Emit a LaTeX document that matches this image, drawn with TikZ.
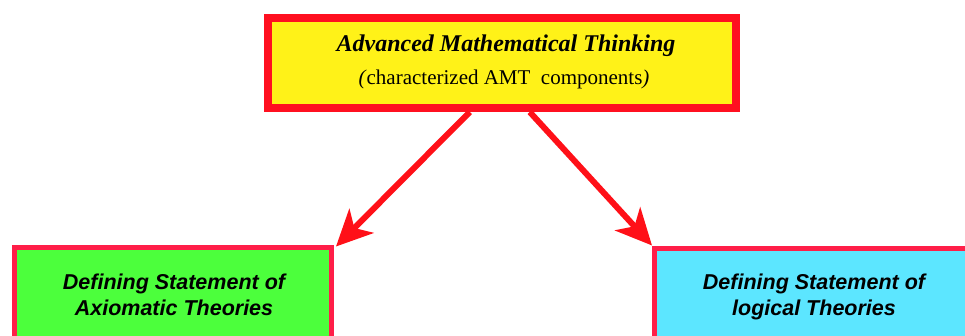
\documentclass[tikz,border=0pt]{standalone}
\usepackage{fontspec}
\setmainfont{Liberation Serif}
\newfontfamily\boxsans{Liberation Sans}
\usetikzlibrary{arrows.meta,calc}
\definecolor{topred}{RGB}{255,16,32}
\definecolor{arrred}{RGB}{255,16,24}
\definecolor{pinkred}{RGB}{255,30,72}
\definecolor{topyellow}{RGB}{255,242,24}
\definecolor{boxgreen}{RGB}{76,255,60}
\definecolor{boxcyan}{RGB}{92,230,255}
\tikzset{
  topbox/.style={draw=topred,line width=8pt,fill=topyellow,inner sep=0pt},
  lowbox/.style={draw=pinkred,line width=5pt,inner sep=0pt},
  lowtext/.style={font=\boxsans\fontsize{21.5}{25}\selectfont\bfseries\itshape,align=center,inner sep=0pt},
  arr/.style={draw=arrred,line width=6pt,-{Stealth[length=36pt,width=34pt,inset=10pt]}}
}
\begin{document}
\begin{tikzpicture}[x=1pt,y=-1pt]
\useasboundingbox (0,0) rectangle (965,336);
\clip (0,0) rectangle (965,336);
\node[topbox,minimum width=467.5pt,minimum height=90pt] (top) at (501.75,63) {};
\node[font=\fontsize{24}{25}\selectfont\bfseries\itshape,anchor=base,inner sep=0pt] (t1) at (506,52) {Advanced Mathematical Thinking};
\node[font=\fontsize{21}{25}\selectfont,anchor=base,inner sep=0pt] (t2) at (504,85) {\textit{(}characterized AMT\ \ components\textit{)}};
\node[lowbox,fill=boxgreen,minimum width=317.5pt,minimum height=120pt] (L) at (172.75,308) {};
\node[lowbox,fill=boxcyan,minimum width=335.5pt,minimum height=120pt] (R) at (822.25,309) {};
\node[lowtext,anchor=base] (l1) at (174,290) {Defining Statement of};
\node[lowtext,anchor=base] (l2) at (174,315) {Axiomatic Theories};
\node[lowtext,anchor=base] (r1) at (814,290) {Defining Statement of};
\node[lowtext,anchor=base] (r2) at (814,315) {logical Theories};
\draw[arr] ($(top.south)+(-32,0)$) -- ($(L.north east)+(2,1)$);
\draw[arr] ($(top.south)+(28,0)$) -- ($(R.north west)+(0,-1)$);
\end{tikzpicture}
\end{document}
